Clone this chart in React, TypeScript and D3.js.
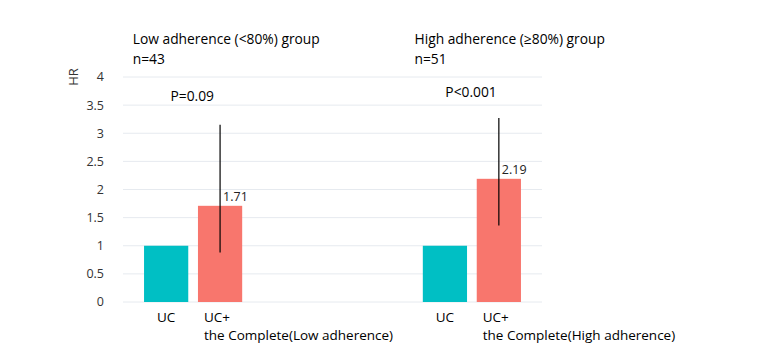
import React from 'react';
import * as d3 from 'd3';

const W = 765;
const H = 361;

const groups = ['low', 'high'];
const groupTitles = ['Low adherence (<80%) group', 'High adherence (\u226580%) group'];
const groupN = ['n=43', 'n=51'];
const pValues = ['P=0.09', 'P<0.001'];
const arms = ['UC', 'UC+'];
const armSubLabels = ['the Complete(Low adherence)', 'the Complete(High adherence)'];
const ucValues = [1, 1];
const treatValues = [1.71, 2.19];
const ciLow = [0.88, 1.36];
const ciHigh = [3.15, 3.27];
const yTicks = [0, 0.5, 1, 1.5, 2, 2.5, 3, 3.5, 4];

const TEAL = '#00BFC4';
const SALMON = '#F8766D';
const FONT = '"Open Sans", sans-serif';

const App = () => {
  const y = d3.scaleLinear().domain([0, 4]).range([302, 77]);
  const x0 = d3
    .scaleBand()
    .domain(groups)
    .range([123, 542])
    .paddingInner(0.617)
    .paddingOuter(0.06);
  const x1 = d3
    .scaleBand()
    .domain(arms)
    .range([0, x0.bandwidth()])
    .paddingInner(0.18)
    .paddingOuter(0.08);

  return (
    <svg width={W} height={H} style={{ position: 'absolute', left: 0, top: 0, background: '#fff' }}>
      {yTicks.map((t) => (
        <g key={t}>
          <line x1={123} x2={542} y1={y(t)} y2={y(t)} stroke="#e6eaef" strokeWidth={1} />
          <text x={104} y={y(t)} dy="0.35em" textAnchor="end" fontFamily={FONT} fontSize={12.5} fill="#333">
            {t}
          </text>
        </g>
      ))}
      <text
        transform={`translate(78,77) rotate(-90)`}
        textAnchor="middle"
        fontFamily={FONT}
        fontSize={13}
        fill="#333"
      >
        HR
      </text>
      {groups.map((g, i) => {
        const gx = x0(g) as number;
        const ucX = gx + (x1('UC') as number);
        const trX = gx + (x1('UC+') as number);
        const bw = x1.bandwidth();
        const cx = trX + bw / 2;
        const titleX = i === 0 ? gx - 7 : gx - 4;
        return (
          <g key={g}>
            <text x={titleX} y={44} fontFamily={FONT} fontSize={13.8} fill="#000">
              {groupTitles[i]}
            </text>
            <text x={titleX} y={64} fontFamily={FONT} fontSize={13.8} fill="#000">
              {groupN[i]}
            </text>
            <text x={ucX + bw + 4} y={i === 0 ? 101 : 97} textAnchor="middle" fontFamily={FONT} fontSize={13.8} fill="#000">
              {pValues[i]}
            </text>
            <rect x={ucX} y={y(ucValues[i])} width={bw} height={y(0) - y(ucValues[i])} fill={TEAL} />
            <rect x={trX} y={y(treatValues[i])} width={bw} height={y(0) - y(treatValues[i])} fill={SALMON} />
            <line x1={cx} x2={cx} y1={y(ciHigh[i])} y2={y(ciLow[i])} stroke="#000" strokeWidth={1.2} />
            <text x={cx + 3} y={y(treatValues[i]) - 5} fontFamily={FONT} fontSize={12.5} fill="#222">
              {treatValues[i].toFixed(2)}
            </text>
            <text x={ucX + bw / 2} y={322} textAnchor="middle" fontFamily={FONT} fontSize={13.5} fill="#000">
              {arms[0]}
            </text>
            <text x={trX + 6} y={322} fontFamily={FONT} fontSize={13.5} fill="#000">
              {arms[1]}
            </text>
            <text x={trX + 6} y={340} fontFamily={FONT} fontSize={13.5} fill="#000">
              {armSubLabels[i]}
            </text>
          </g>
        );
      })}
    </svg>
  );
};

export default App;
